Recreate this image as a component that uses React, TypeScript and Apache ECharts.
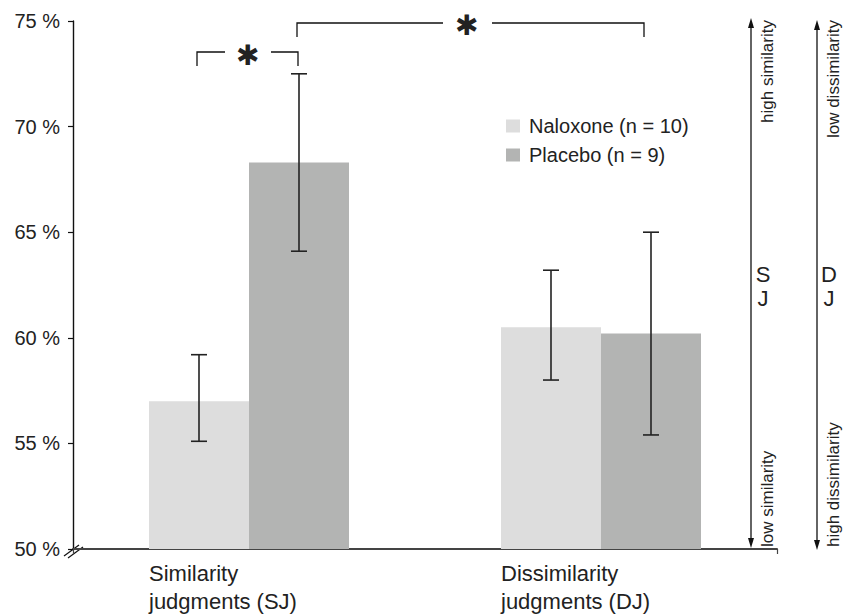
import React, { useEffect, useRef } from "react";
import * as echarts from "echarts";

const categories = ["Similarity\njudgments (SJ)", "Dissimilarity\njudgments (DJ)"];
const seriesNames = ["Naloxone (n = 10)", "Placebo (n = 9)"];
const naloxone = [57.0, 60.5];
const placebo = [68.3, 60.2];
const naloxoneLow = [55.1, 58.0];
const naloxoneHigh = [59.2, 63.2];
const placeboLow = [64.1, 55.4];
const placeboHigh = [72.5, 65.0];
const yTicks = { min: 50, max: 75, interval: 5 };

const FONT = "Liberation Sans, Arial, Helvetica, sans-serif";
const BAR_W = 100;

function errSeries(lows: number[], highs: number[], offset: number) {
  return {
    type: "custom",
    silent: true,
    z: 5,
    data: lows.map((l, i) => [i, l, highs[i]]),
    renderItem: (params: any, api: any) => {
      const c = api.value(0);
      const lo = api.coord([c, api.value(1)]);
      const hi = api.coord([c, api.value(2)]);
      const x = lo[0] + offset;
      const st = { stroke: "#222", lineWidth: 1.6 };
      return {
        type: "group",
        children: [
          { type: "line", shape: { x1: x, y1: lo[1], x2: x, y2: hi[1] }, style: st },
          { type: "line", shape: { x1: x - 8, y1: lo[1], x2: x + 8, y2: lo[1] }, style: st },
          { type: "line", shape: { x1: x - 8, y1: hi[1], x2: x + 8, y2: hi[1] }, style: st },
        ],
      };
    },
  };
}

export default function App() {
  const ref = useRef<HTMLDivElement>(null);
  useEffect(() => {
    if (!ref.current) return;
    const chart = echarts.init(ref.current, null, { renderer: "svg" });
    const line = (x1: number, y1: number, x2: number, y2: number, w = 1.4, c = "#111") => ({
      type: "line",
      shape: { x1, y1, x2, y2 },
      style: { stroke: c, lineWidth: w },
      silent: true,
    });
    const poly = (pts: number[][]) => ({
      type: "polyline",
      shape: { points: pts },
      style: { stroke: "#111", lineWidth: 1.3, fill: null },
      silent: true,
    });
    const tri = (pts: number[][]) => ({
      type: "polygon",
      shape: { points: pts },
      style: { fill: "#111" },
      silent: true,
    });
    const txt = (text: string, x: number, y: number, size: number, align: string, rot = 0, va = "middle") => ({
      type: "text",
      x,
      y,
      rotation: rot,
      silent: true,
      style: { text, fontSize: size, fontFamily: FONT, fill: "#222", align, verticalAlign: va },
    });

    chart.setOption({
      animation: false,
      backgroundColor: "#ffffff",
      textStyle: { fontFamily: FONT },
      grid: { left: 73, right: 74, top: 21, bottom: 66, outerBoundsMode: "none", containLabel: false },
      legend: {
        orient: "vertical",
        left: 501,
        top: 111,
        itemWidth: 14,
        itemHeight: 13,
        itemGap: 9,
        icon: "rect",
        data: seriesNames,
        textStyle: { fontSize: 20, color: "#222", fontFamily: FONT, padding: [0, 0, 0, 4] },
      },
      xAxis: {
        type: "category",
        data: categories,
        boundaryGap: true,
        axisLine: { lineStyle: { color: "#444", width: 2 } },
        axisTick: { show: true, length: 5, interval: (i: number) => i === 1, lineStyle: { color: "#444", width: 1.2 } },
        axisLabel: { show: false },
        splitLine: { show: false },
      },
      yAxis: {
        type: "value",
        min: yTicks.min,
        max: yTicks.max,
        interval: yTicks.interval,
        axisLine: { show: true, lineStyle: { color: "#111", width: 1.4 } },
        axisTick: { show: true, length: 5, lineStyle: { color: "#111", width: 1.2 } },
        axisLabel: { formatter: "{value} %", fontSize: 20, color: "#222", margin: 13, fontFamily: FONT },
        splitLine: { show: false },
      },
      series: [
        {
          name: seriesNames[0],
          type: "bar",
          data: naloxone,
          barWidth: BAR_W,
          barGap: "0%",
          itemStyle: { color: "#dddddd" },
        },
        {
          name: seriesNames[1],
          type: "bar",
          data: placebo,
          barWidth: BAR_W,
          barGap: "0%",
          itemStyle: { color: "#b3b4b3" },
        },
        errSeries(naloxoneLow, naloxoneHigh, -BAR_W / 2),
        errSeries(placeboLow, placeboHigh, BAR_W / 2),
      ],
    });

    const labels: any[] = [];
    categories.forEach((c, i) => {
      const cx = chart.convertToPixel({ xAxisIndex: 0 }, i) as number;
      const [l1, l2] = c.split("\n");
      labels.push(txt(l1, cx - BAR_W, 573, 22, "left"));
      labels.push(txt(l2, cx - BAR_W, 601, 22, "left"));
    });

    chart.setOption({
      graphic: [
        ...labels,
        // axis break
        line(64, 556, 79, 545, 1.2),
        line(68, 558, 83, 547, 1.2),
        // small bracket
        poly([[197, 66], [197, 52], [225, 52]]),
        poly([[271, 52], [298, 52], [298, 66]]),
        txt("✱", 247, 55, 28, "center"),
        // large bracket
        poly([[297, 37], [297, 23], [443, 23]]),
        poly([[492, 23], [644, 23], [644, 37]]),
        txt("✱", 466, 25, 28, "center"),
        // right arrows
        line(751, 24, 751, 542, 1.3),
        tri([[751, 18], [748, 28], [754, 28]]),
        tri([[751, 548], [748, 538], [754, 538]]),
        line(817, 26, 817, 544, 1.3),
        tri([[817, 20], [814, 30], [820, 30]]),
        tri([[817, 550], [814, 540], [820, 540]]),
        txt("high similarity", 767, 20, 17, "right", Math.PI / 2),
        txt("low similarity", 767, 547, 17, "left", Math.PI / 2),
        txt("low dissimilarity", 833, 20, 17, "right", Math.PI / 2),
        txt("high dissimilarity", 833, 547, 17, "left", Math.PI / 2),
        txt("S", 763, 274, 22, "center"),
        txt("J", 763, 298, 22, "center"),
        txt("D", 829, 274, 22, "center"),
        txt("J", 829, 298, 22, "center"),
      ],
    });
    return () => chart.dispose();
  }, []);
  return <div ref={ref} style={{ width: 851, height: 615, position: "absolute", left: 0, top: 0 }} />;
}
